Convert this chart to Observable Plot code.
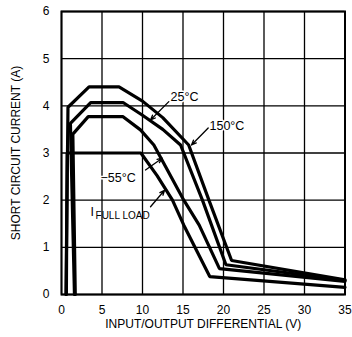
<!DOCTYPE html>
<html><head><meta charset="utf-8">
<script src="https://cdn.jsdelivr.net/npm/d3@7"></script>
<script src="https://cdn.jsdelivr.net/npm/@observablehq/plot@0.6"></script>
<style>body{margin:0;background:#fff}</style>
</head><body><div id="chart"></div>
<script>
const xTicks = [0, 5, 10, 15, 20, 25, 30, 35];
const yTicks = [0, 1, 2, 3, 4, 5, 6];

// curves (input/output differential V, short circuit current A)
const c25x  = [0.55, 0.8, 3.4, 7.1, 10, 12.5, 15.7, 18.2, 21, 35];
const c25y  = [0, 3.97, 4.4, 4.4, 4.1, 3.75, 3.17, 2.0, 0.72, 0.31];
const c150x = [1.6, 1.1, 3.6, 7.6, 10, 12.5, 14.7, 17.4, 20.3, 35];
const c150y = [0, 3.63, 4.07, 4.07, 3.8, 3.5, 3.17, 2.0, 0.63, 0.3];
const cm55x = [1.7, 1.4, 3.3, 7.6, 9.75, 11.4, 15.1, 17.0, 19.5, 35];
const cm55y = [0, 3.4, 3.77, 3.77, 3.49, 3.17, 2.0, 1.47, 0.55, 0.28];
const cflx  = [0.6, 0.7, 9.8, 11.8, 13.7, 15.1, 18.3, 35];
const cfly  = [0, 3.0, 3.0, 2.52, 2.0, 1.47, 0.38, 0.15];

// annotation labels
const labelText = ["25°C", "150°C", "−55°C"];
const labelX = [13.46, 18.27, 4.81];
const labelY = [4.19, 3.57, 2.47];
const flMain = "I", flSub = "FULL LOAD";
const flMainX = 3.58, flMainY = 1.74, flSubX = 4.2, flSubY = 1.66;

// arrows
const arrX1 = [13.25, 18.11, 10.37, 10.99];
const arrY1 = [4.09, 3.53, 2.64, 1.86];
const arrX2 = [10.99, 16.05, 12.43, 12.72];
const arrY2 = [3.70, 3.17, 2.89, 2.21];

const xLabel = "INPUT/OUTPUT DIFFERENTIAL (V)";
const yLabel = "SHORT CIRCUIT CURRENT (A)";

const curves = [];
[[c25x, c25y, "25"], [c150x, c150y, "150"], [cm55x, cm55y, "-55"], [cflx, cfly, "fl"]]
  .forEach(([xs, ys, s]) => xs.forEach((x, i) => curves.push({x, y: ys[i], s})));
const labels = labelText.map((t, i) => ({t, x: labelX[i], y: labelY[i]}));
const arrows = arrX1.map((x1, i) => ({x1, y1: arrY1[i], x2: arrX2[i], y2: arrY2[i]}));

const font = "'Liberation Sans', Arial, Helvetica, sans-serif";
const chart = Plot.plot({
  width: 352, height: 337,
  marginLeft: 61, marginRight: 7.5, marginTop: 11, marginBottom: 43,
  x: {domain: [0, 35]},
  y: {domain: [0, 6]},
  style: {fontFamily: font, fontSize: "12px", background: "#fff", color: "#000"},
  marks: [
    Plot.gridX(xTicks, {stroke: "#000", strokeOpacity: 1, strokeWidth: 1.3}),
    Plot.gridY(yTicks, {stroke: "#000", strokeOpacity: 1, strokeWidth: 1.3}),
    Plot.frame({stroke: "#000", strokeWidth: 2}),
    Plot.axisX(xTicks, {tickSize: 0, tickPadding: 11, fontSize: 12, label: null}),
    Plot.axisY(yTicks, {tickSize: 0, tickPadding: 12, fontSize: 12, label: null}),
    Plot.line(curves, {x: "x", y: "y", z: "s", stroke: "#000", strokeWidth: 3.2, strokeLinejoin: "miter"}),
    Plot.text(labels, {x: "x", y: "y", text: "t", textAnchor: "start", fontSize: 12.5, fill: "#000", stroke: "#fff", strokeWidth: 3}),
    Plot.text([flMain], {x: flMainX, y: flMainY, text: d => d, textAnchor: "start", fontSize: 12.5, fill: "#000"}),
    Plot.text([flSub], {x: flSubX, y: flSubY, text: d => d, textAnchor: "start", fontSize: 10, fill: "#000"}),
    Plot.arrow(arrows, {x1: "x1", y1: "y1", x2: "x2", y2: "y2", stroke: "#000", strokeWidth: 1.3, headLength: 6, headAngle: 45}),
    Plot.text([xLabel], {text: d => d, frameAnchor: "bottom", textAnchor: "middle", dy: 30, fontSize: 12, lineAnchor: "middle", fill: "#000"}),
    Plot.text([yLabel], {text: d => d, frameAnchor: "left", textAnchor: "middle", dx: -45, rotate: -90, fontSize: 12, lineAnchor: "middle", fill: "#000"})
  ]
});
document.getElementById("chart").appendChild(chart);
</script>
</body></html>
